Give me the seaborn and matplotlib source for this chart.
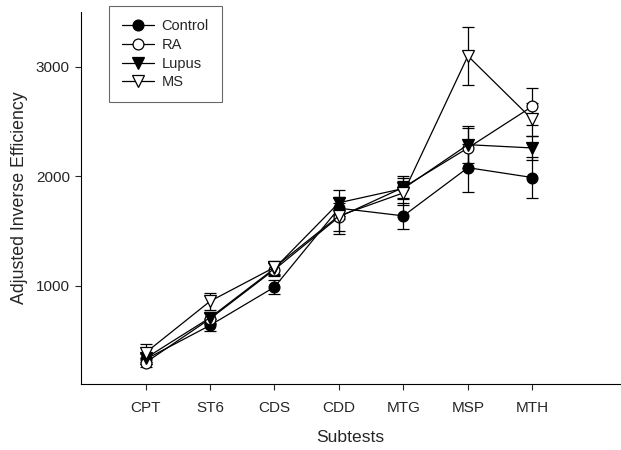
import numpy as np
import pandas as pd
import matplotlib
matplotlib.use("Agg")
import matplotlib.pyplot as plt
import seaborn as sns

subtests = ["CPT", "ST6", "CDS", "CDD", "MTG", "MSP", "MTH"]
control = [330, 640, 990, 1710, 1640, 2080, 1990]
control_err = [45, 55, 65, 100, 120, 220, 185]
ra = [300, 700, 1150, 1630, 1900, 2260, 2640]
ra_err = [40, 50, 60, 130, 100, 180, 170]
lupus = [340, 710, 1160, 1760, 1890, 2290, 2260]
lupus_err = [50, 50, 60, 120, 100, 170, 110]
ms = [390, 860, 1170, 1640, 1850, 3100, 2520]
ms_err = [80, 75, 60, 165, 110, 265, 150]

groups = ["Control", "RA", "Lupus", "MS"]
values = [control, ra, lupus, ms]
errors = [control_err, ra_err, lupus_err, ms_err]
markers = ["o", "o", "v", "v"]
faces = ["black", "white", "black", "white"]

sns.set_style("ticks")
plt.rcParams["font.family"] = ["Liberation Sans", "DejaVu Sans"]

fig = plt.figure(figsize=(6.21, 4.5), dpi=100)
ax = fig.add_axes([0.1305, 0.1467, 0.8680, 0.8263])

xpos = np.arange(len(subtests))
for g, v, e, m, fc in zip(groups, values, errors, markers, faces):
    df = pd.DataFrame({"x": xpos, "y": v})
    ax.errorbar(xpos, v, yerr=e, fmt="none", ecolor="black", elinewidth=0.9,
                capsize=4.3, capthick=0.9, zorder=2)
    sns.lineplot(data=df, x="x", y="y", ax=ax, color="black", linewidth=0.9,
                 marker=m, markersize=7.8 if m == "o" else 8.2,
                 markerfacecolor=fc, markeredgecolor="black",
                 markeredgewidth=0.9, label=g, zorder=3)

ax.set_xlim(-1, 7.36)
ax.set_ylim(105, 3500)
ax.set_xticks(xpos)
ax.set_xticklabels(subtests)
ax.set_yticks([1000, 2000, 3000])
ax.set_xlabel("Subtests", fontsize=12.6, labelpad=11)
ax.set_ylabel("Adjusted Inverse Efficiency", fontsize=12.8, labelpad=6)
ax.tick_params(axis="both", labelsize=11, length=4, width=0.8, direction="out", pad=8)
ax.tick_params(axis="y", pad=4)
for s in ["top", "right"]:
    ax.spines[s].set_visible(False)
for s in ["left", "bottom"]:
    ax.spines[s].set_linewidth(0.8)
    ax.spines[s].set_color("black")

leg = ax.legend(loc="upper left", bbox_to_anchor=(0.052, 1.016), frameon=True,
                fancybox=False, edgecolor="#444444", fontsize=10.5,
                handlelength=2.2, borderpad=0.9, labelspacing=0.32,
                handletextpad=0.5, borderaxespad=0)
leg.get_frame().set_linewidth(0.8)

fig.savefig("out.png", dpi=100)
